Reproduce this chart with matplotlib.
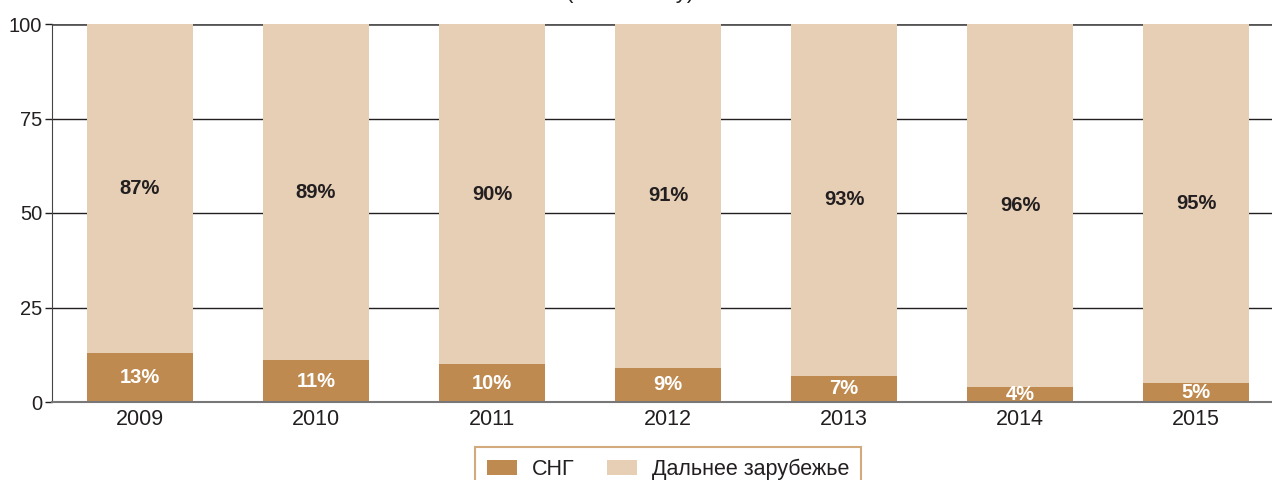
import matplotlib
matplotlib.use("Agg")
import matplotlib.pyplot as plt
import numpy as np

plt.rcParams['font.family'] = ['Liberation Sans', 'DejaVu Sans']

# данные
years = ["2009", "2010", "2011", "2012", "2013", "2014", "2015"]
cis = [13, 11, 10, 9, 7, 4, 5]
far_abroad = [87, 89, 90, 91, 93, 96, 95]
yticks = [0, 25, 50, 75, 100]

dark = "#BF8A50"
light = "#E6CFB5"
text_col = "#231f20"

fig = plt.figure(figsize=(12.72, 4.8), dpi=100)
# ось шире фигуры - правый край обрезан, как в оригинале
ax = fig.add_axes([52 / 1272, 1 - 402 / 480, 1232 / 1272, 378 / 480])

x = np.arange(len(years))
ax.bar(x, cis, width=0.6, color=dark, label="СНГ", zorder=3)
ax.bar(x, far_abroad, width=0.6, bottom=cis, color=light, label="Дальнее зарубежье", zorder=3)

# подписи значений
for i in range(len(years)):
    ax.text(x[i], cis[i] / 2, f"{cis[i]}%", ha="center", va="center",
            color="white", fontsize=14.5, fontweight="bold", zorder=4)
    ax.text(x[i], cis[i] + far_abroad[i] / 2, f"{far_abroad[i]}%", ha="center", va="center",
            color=text_col, fontsize=14.5, fontweight="bold", zorder=4)

ax.set_xlim(-0.5, len(years) - 0.5)
ax.set_ylim(0, 100)
ax.set_yticks(yticks)
ax.set_xticks(x)
ax.set_xticklabels(years)
ax.tick_params(axis="y", length=5, width=1, color=text_col, labelsize=14.5, pad=2,
               labelcolor=text_col)
ax.tick_params(axis="x", length=0, labelsize=15.5, pad=5, labelcolor=text_col)

for y in [25, 50, 75]:
    ax.axhline(y, color=text_col, lw=1, zorder=1)
ax.axhline(100, color="#555555", lw=2, zorder=2)

for s in ["top", "right"]:
    ax.spines[s].set_visible(False)
ax.spines["left"].set_color("#444444")
ax.spines["bottom"].set_color("#777777")
ax.spines["bottom"].set_linewidth(1.5)
ax.spines["bottom"].set_zorder(5)

# заголовок почти полностью обрезан сверху
fig.text(0.495, 1.016, "(в % к итогу)", ha="center", va="center", fontsize=16, color=text_col)

leg = fig.legend(loc="upper center", bbox_to_anchor=(668 / 1272, 1 - 436 / 480), ncol=2,
                 fontsize=15.5, frameon=True, fancybox=False, handlelength=1.4, handleheight=0.75,
                 handletextpad=0.7, columnspacing=1.5, borderpad=0.55, borderaxespad=0.5)
leg.get_frame().set_edgecolor("#C8955A")
leg.get_frame().set_linewidth(1.5)
for t in leg.get_texts():
    t.set_color(text_col)

fig.savefig("out.png", dpi=100)
